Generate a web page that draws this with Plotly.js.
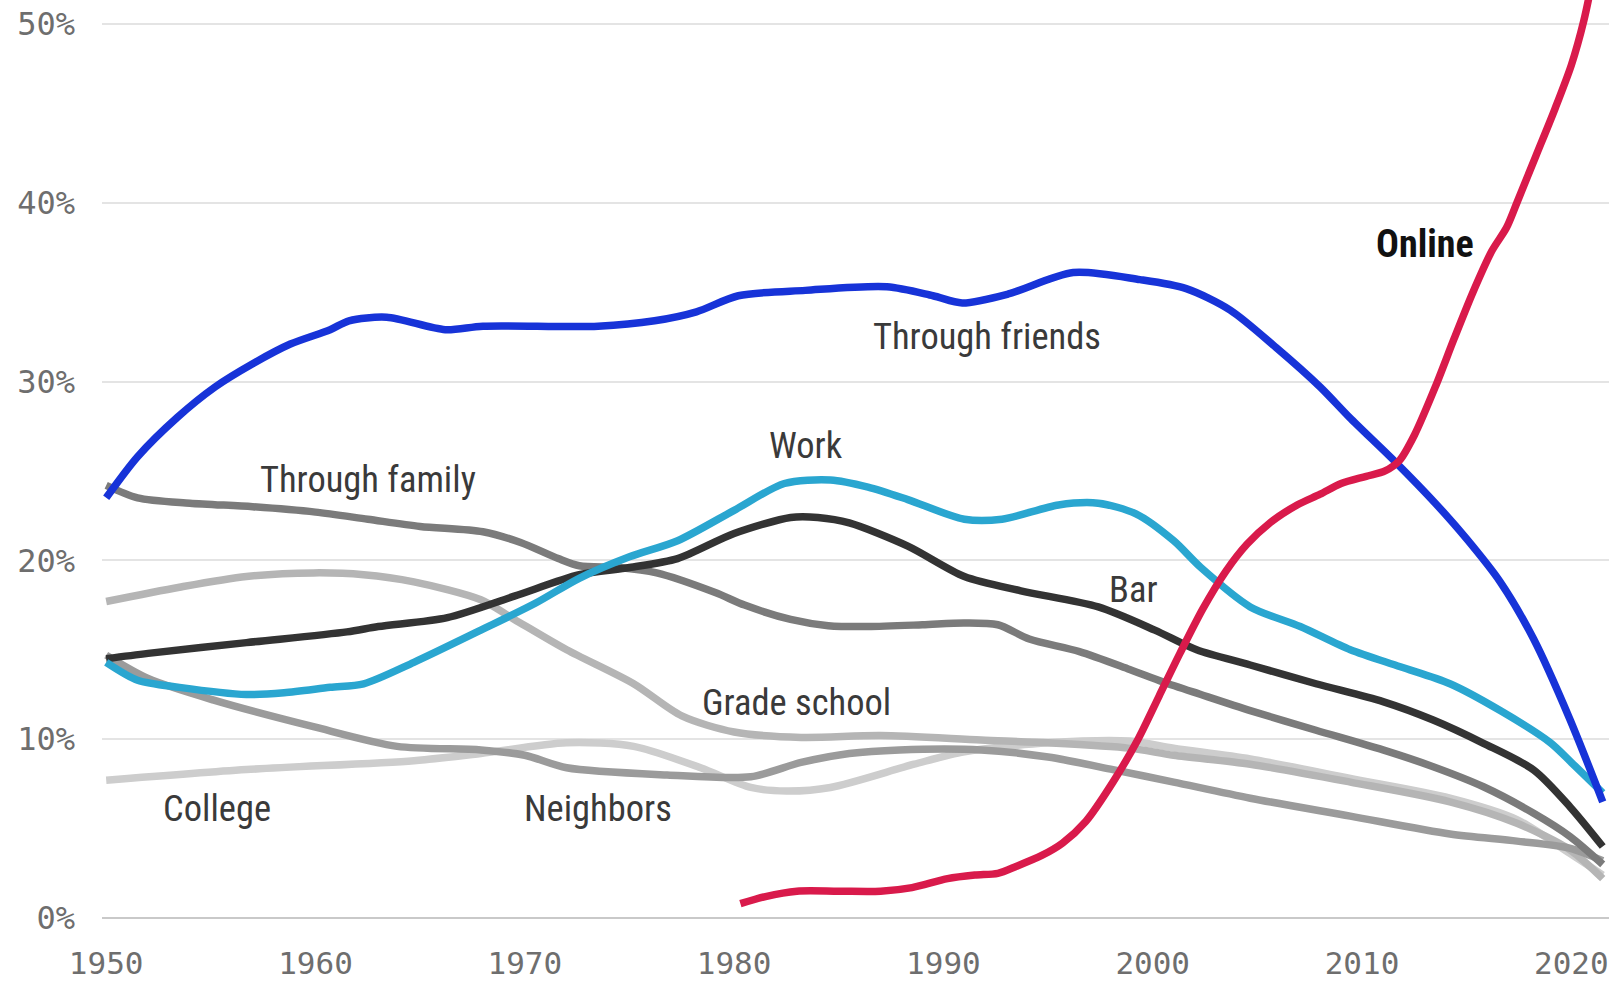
<!DOCTYPE html>
<html>
<head>
<meta charset="utf-8">
<script src="https://cdn.plot.ly/plotly-3.0.1.min.js"></script>
<style>
html,body{margin:0;padding:0;background:#fff;}
#chart{width:1617px;height:983px;}
</style>
</head>
<body>
<div id="chart"></div>
<script>
// ---- Data (share of couples who met this way, %) ----
const friendsYears = [1950,1951.5,1953.4,1955.2,1957,1958.8,1960.7,1961.6,1963.4,1966.2,1968,1973.5,1976.2,1978.2,1980.2,1983.4,1987.3,1989.5,1990.9,1993.1,1996.2,1999.4,2001.6,2003.7,2005.9,2008,2009.4,2011.6,2013.5,2015,2016.6,2018.2,2019.9,2021.5];
const friendsVals  = [23.5,25.8,28.0,29.7,31.0,32.1,32.9,33.4,33.6,32.9,33.1,33.1,33.4,33.9,34.8,35.1,35.3,34.8,34.4,34.9,36.1,35.7,35.2,34.0,31.9,29.7,28.0,25.5,23.2,21.2,18.8,15.6,11.2,6.5];

const onlineYears = [1980.3,1981.5,1983,1985,1987,1988.5,1990.2,1991.5,1992.6,1993.5,1994.7,1995.7,1996.8,1998.1,1999.3,2000.3,2001.3,2002.4,2003.5,2004.5,2005.6,2006.9,2008,2009,2010.2,2011.1,2011.8,2012.5,2013.5,2014.4,2015.3,2016.2,2016.9,2017.4,2018.3,2019.2,2020,2020.6,2021.1];
const onlineVals  = [0.8,1.2,1.5,1.5,1.5,1.7,2.2,2.4,2.5,2.9,3.5,4.2,5.4,7.6,10.0,12.4,14.8,17.3,19.4,20.9,22.1,23.1,23.7,24.3,24.7,25.0,25.6,27.0,29.7,32.4,35.0,37.3,38.6,40.0,42.6,45.2,47.7,50.2,53.0];

const workYears = [1950,1951.5,1953.5,1956.7,1958.5,1960.7,1962.3,1964.7,1967.9,1970.5,1972.6,1975,1977.3,1980,1982.4,1984.6,1986.4,1988.3,1991,1992.8,1995.5,1997.4,1999.2,2001,2002.3,2004.66,2007.05,2009.44,2011.83,2014.2,2016.6,2019,2020,2021.5];
const workVals  = [14.3,13.3,12.9,12.5,12.6,12.9,13.1,14.3,16.1,17.6,19.0,20.2,21.1,22.8,24.3,24.5,24.1,23.4,22.3,22.3,23.1,23.2,22.6,21.1,19.6,17.4,16.3,15.0,14.05,13.1,11.6,9.8,8.7,7.0];

const barYears = [1950,1952,1956.7,1961.5,1963,1966.3,1969.5,1972.6,1975,1977.3,1980,1982.7,1984,1985.5,1988.3,1991,1993.7,1997.4,2000.1,2002.1,2004.66,2007.8,2011,2013.4,2015.8,2018.2,2019.95,2021.5];
const barVals  = [14.5,14.8,15.4,16.0,16.3,16.8,18.0,19.2,19.6,20.1,21.5,22.4,22.4,22.1,20.8,19.1,18.3,17.4,16.1,15.0,14.15,13.1,12.1,11.07,9.77,8.28,6.2,4.0];

const familyYears = [1950,1951.5,1954,1957,1960,1962.5,1965,1968,1969.8,1971.6,1972.6,1974.5,1976.3,1979.1,1980.5,1982.7,1984.5,1986.4,1989,1991,1992.6,1994.1,1996.5,1998.9,2000.5,2002.3,2004.66,2007.8,2011,2013.4,2015.8,2018.2,2019.95,2021.5];
const familyVals  = [24.2,23.5,23.2,23.0,22.7,22.3,21.9,21.6,21.0,20.1,19.7,19.6,19.3,18.2,17.5,16.7,16.35,16.3,16.4,16.5,16.4,15.6,14.9,13.9,13.2,12.5,11.6,10.5,9.4,8.46,7.34,5.86,4.55,3.0];

const gradeYears = [1950,1953.5,1956.7,1959.9,1962.3,1964.7,1967.9,1969.5,1972,1975.2,1977.5,1980,1983.2,1987,1991.8,1995,1998.9,2001,2004.66,2009.44,2014.2,2017.4,2019.95,2021.5];
const gradeVals  = [17.7,18.5,19.1,19.3,19.2,18.8,17.8,16.7,15.0,13.1,11.3,10.4,10.1,10.2,9.95,9.8,9.5,9.1,8.6,7.6,6.5,5.3,3.8,2.2];

const collegeYears = [1950,1956.7,1964.7,1967.9,1972,1975.2,1978.4,1980.8,1982.5,1984.6,1988.6,1991,1995,1998.9,2001,2004.66,2009.44,2014.2,2017.4,2019.95,2021.5];
const collegeVals  = [7.7,8.3,8.8,9.2,9.8,9.6,8.4,7.3,7.1,7.3,8.6,9.3,9.8,9.9,9.5,8.9,7.8,6.7,5.5,3.6,2.4];

const neighborsYears = [1950,1952,1955.1,1959.9,1963.9,1967.9,1970,1972,1976.8,1980.8,1983.2,1985.5,1987.9,1991.8,1995,1998.1,2001,2004.66,2009.44,2014.2,2017.4,2019.95,2021.5];
const neighborsVals  = [14.7,13.4,12.2,10.7,9.6,9.4,9.1,8.4,8.0,7.9,8.7,9.2,9.4,9.4,9.0,8.3,7.6,6.7,5.7,4.7,4.3,3.9,3.2];

const xTickVals = [1950,1960,1970,1980,1990,2000,2010,2020];
const xTickText = ['1950','1960','1970','1980','1990','2000','2010','2020'];
const yTickVals = [0,10,20,30,40,50];
const yTickText = ['0%','10%','20%','30%','40%','50%'];

// series labels
const labels = [
  {text:'Through friends', x:1992.1, y:32.5},
  {text:'Online', x:2013.0, y:37.7, bold:true},
  {text:'Work', x:1983.45, y:26.4},
  {text:'Through family', x:1962.5, y:24.5},
  {text:'Bar', x:1999.1, y:18.35},
  {text:'Grade school', x:1983.0, y:12.05},
  {text:'College', x:1955.3, y:6.1},
  {text:'Neighbors', x:1973.5, y:6.15}
];

// ---- Traces ----
function line(x, y, color, name){
  return {x:x, y:y, type:'scatter', mode:'lines', name:name,
    line:{color:color, width:7.5, shape:'spline', smoothing:0.8},
    hoverinfo:'skip', cliponaxis:false};
}
const traces = [
  line(collegeYears, collegeVals, '#cdcdcd', 'College'),
  line(gradeYears, gradeVals, '#b5b5b5', 'Grade school'),
  line(neighborsYears, neighborsVals, '#9b9b9b', 'Neighbors'),
  line(familyYears, familyVals, '#7b7b7b', 'Through family'),
  line(barYears, barVals, '#333333', 'Bar'),
  line(workYears, workVals, '#2aa6d0', 'Work'),
  line(friendsYears, friendsVals, '#1733d8', 'Through friends'),
  line(onlineYears, onlineVals, '#d91a4b', 'Online')
];

const labelFont = 'Roboto Condensed, Liberation Sans Narrow, DejaVu Sans Condensed, sans-serif';
const annotations = labels.map(l => ({
  x:l.x, y:l.y, xref:'x', yref:'y', text: l.bold ? '<b>'+l.text+'</b>' : l.text,
  showarrow:false, xanchor:'center', yanchor:'middle',
  font:{family:labelFont, size: l.bold ? 38 : 36.5, color: l.bold ? '#111111' : '#3a3a3a'}
}));

const layout = {
  width:1617, height:983,
  margin:{l:102, r:8, t:0, b:53, pad:0},
  paper_bgcolor:'#ffffff', plot_bgcolor:'#ffffff',
  showlegend:false,
  xaxis:{
    range:[1949.8, 2021.8], tickvals:xTickVals, ticktext:xTickText,
    showgrid:false, zeroline:false, showline:false, ticks:'',
    ticklabelstandoff:12,
    tickfont:{family:'DejaVu Sans Mono, monospace', size:31, color:'#6e6e6e'}
  },
  yaxis:{
    range:[-0.671, 51.34], tickvals:yTickVals, ticktext:yTickText,
    showgrid:true, gridcolor:'#e4e4e4', gridwidth:2,
    zeroline:true, zerolinecolor:'#c9c9c9', zerolinewidth:2,
    showline:false, ticks:'', ticklabelstandoff:26,
    tickfont:{family:'DejaVu Sans Mono, monospace', size:32, color:'#6e6e6e'}
  },
  annotations:annotations
};

Plotly.newPlot('chart', traces, layout, {staticPlot:true, displayModeBar:false});
</script>
</body>
</html>
